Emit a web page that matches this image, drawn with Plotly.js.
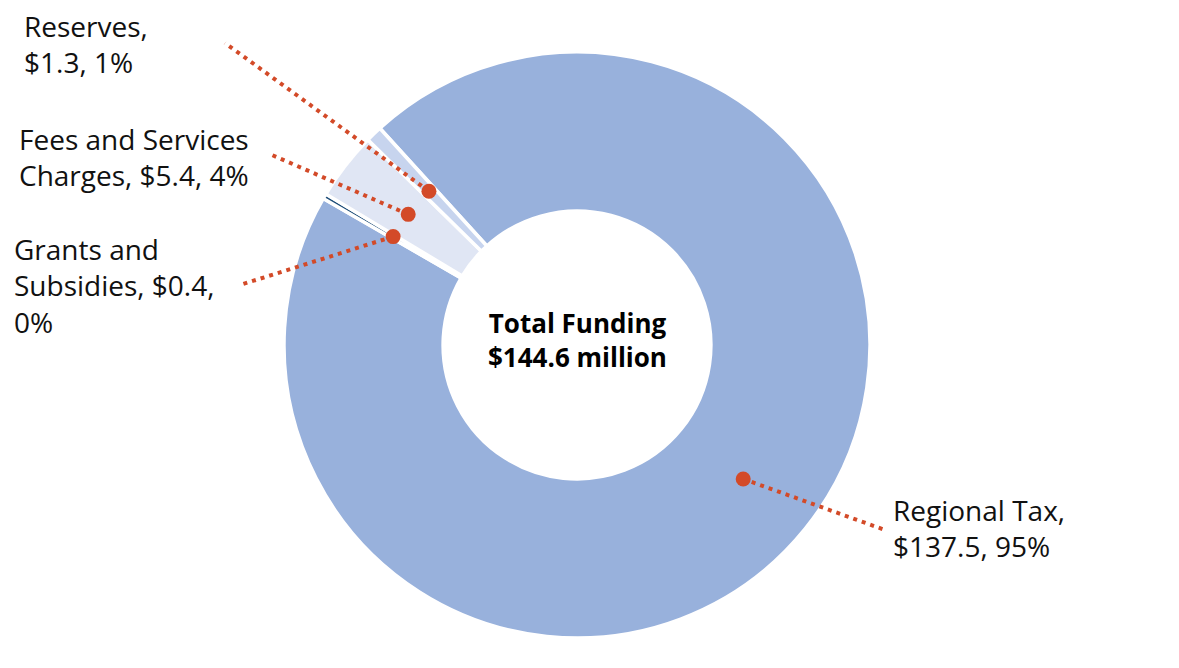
<!DOCTYPE html>
<html><head><meta charset="utf-8">
<script src="https://cdn.plot.ly/plotly-3.0.1.min.js"></script>
<style>html,body{margin:0;padding:0;background:#fff}#chart{width:1179px;height:668px}</style>
</head><body><div id="chart"></div>
<script>
// ---- data ----
const categories = ['Regional Tax', 'Grants and Subsidies', 'Fees and Services Charges', 'Reserves'];
const amounts = [137.5, 0.4, 5.4, 1.3];
const percents = ['95%', '0%', '4%', '1%'];
const labelLines = [
  ['Regional Tax,', '$137.5, 95%'],
  ['Grants and', 'Subsidies, $0.4,', '0%'],
  ['Fees and Services', 'Charges, $5.4, 4%'],
  ['Reserves,', '$1.3, 1%']
];
const centerTitle = ['Total Funding', '$144.6 million'];

// ---- style / layout ----
const W = 1179, H = 668;
const sliceColors = ['#98b1dc', '#1f4e79', '#e0e6f4', '#c7d4ee'];
const accent = '#d34a28';
const cx = 577, cy = 345, R = 293, hole = 0.457, rotation = -42.3;
// label placement (pixels): text left/top and leader end point
const labelPos = [
  {x: 891, y: 489, ex: 885, ey: 530},
  {x: 12, y: 228, ex: 240, ey: 285},
  {x: 17, y: 118, ex: 272, ey: 155},
  {x: 22, y: 5, ex: 225, ey: 43}
];
const px = v => v / W, py = v => 1 - v / H;

const total = amounts.reduce((a, b) => a + b, 0);
const rMid = R * (1 + hole) / 2;
let cum = 0;
const shapes = [], annotations = [];
amounts.forEach((v, i) => {
  const mid = (rotation + 360 * (cum + v / 2) / total) * Math.PI / 180;
  cum += v;
  const dx = cx + rMid * Math.sin(mid), dy = cy - rMid * Math.cos(mid);
  const lp = labelPos[i];
  shapes.push({type: 'line', xref: 'paper', yref: 'paper', layer: 'above',
    x0: px(dx), y0: py(dy), x1: px(lp.ex), y1: py(lp.ey),
    line: {color: accent, width: 4, dash: '4px,5px'}});
  const rd = 7.5;
  shapes.push({type: 'circle', xref: 'paper', yref: 'paper', layer: 'above',
    x0: px(dx - rd), x1: px(dx + rd), y0: py(dy + rd), y1: py(dy - rd),
    fillcolor: accent, line: {width: 0}});
  annotations.push({xref: 'paper', yref: 'paper', x: px(lp.x), y: py(lp.y),
    xanchor: 'left', yanchor: 'top', align: 'left', showarrow: false,
    text: labelLines[i].join('<br>'),
    font: {family: 'Open Sans, sans-serif', size: 28, color: '#111'}});
});
annotations.push({xref: 'paper', yref: 'paper', x: px(cx), y: py(cy - 5), xanchor: 'center', yanchor: 'middle',
  showarrow: false, align: 'center', text: centerTitle.map(t => '<b>' + t + '</b>').join('<br>'),
  font: {family: 'Open Sans, sans-serif', size: 26, color: '#000'}});

const trace = {
  type: 'pie', labels: categories, values: amounts, sort: false,
  direction: 'clockwise', rotation: rotation, hole: hole,
  marker: {colors: sliceColors, line: {color: '#fff', width: 3.5}},
  textinfo: 'none', hoverinfo: 'label+value+percent', showlegend: false,
  domain: {x: [px(cx - R), px(cx + R)], y: [py(cy + R), py(cy - R)]}
};

Plotly.newPlot('chart', [trace], {
  width: W, height: H, margin: {l: 0, r: 0, t: 0, b: 0},
  paper_bgcolor: '#fff', showlegend: false,
  shapes: shapes, annotations: annotations
}, {staticPlot: true});
</script></body></html>
